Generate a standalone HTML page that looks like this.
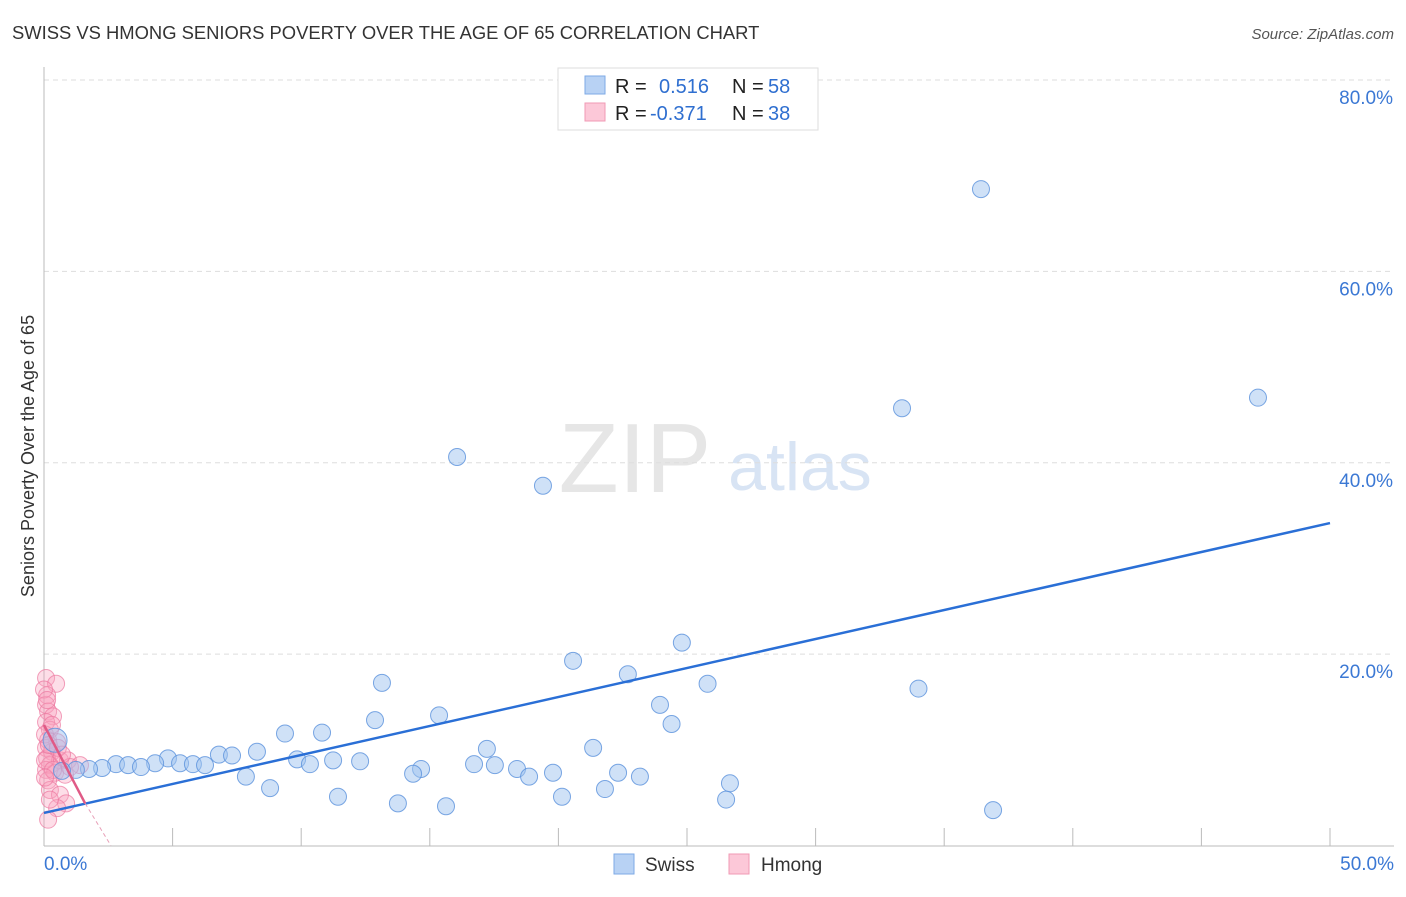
<!DOCTYPE html>
<html><head><meta charset="utf-8"><style>
body{margin:0;background:#fff;font-family:"Liberation Sans",sans-serif;}
svg text{font-family:"Liberation Sans",sans-serif;}
</style></head><body>
<svg id="chart" width="1406" height="892">
<text x="12" y="39" font-size="18.4" fill="#333">SWISS VS HMONG SENIORS POVERTY OVER THE AGE OF 65 CORRELATION CHART</text>
<text x="1394" y="39" font-size="15" fill="#555" font-style="italic" text-anchor="end">Source: ZipAtlas.com</text>
<text x="34" y="456" font-size="18" fill="#333" text-anchor="middle" transform="rotate(-90 34 456)">Seniors Poverty Over the Age of 65</text>
<text x="635" y="492" font-size="98" fill="#e6e6e6" font-family="Liberation Serif" text-anchor="middle">ZIP</text>
<text x="800" y="490" font-size="68" fill="#d8e4f4" text-anchor="middle">atlas</text>
<g id="grid"></g>
<g id="axes"></g>
<g id="marks"></g>
<g>
<rect x="558" y="68" width="260" height="62" fill="#fff" stroke="#ddd"/>
<rect x="585" y="76" width="20" height="18" fill="#b8d2f4" stroke="#7eaae6"/>
<rect x="585" y="103" width="20" height="18" fill="#fcc8d8" stroke="#f09ab4"/>
<text x="615" y="93" font-size="20" fill="#222">R = </text><text x="659" y="93" font-size="20" fill="#2f6fd0">0.516</text>
<text x="732" y="93" font-size="20" fill="#222">N = </text><text x="768" y="93" font-size="20" fill="#2f6fd0">58</text>
<text x="615" y="120" font-size="20" fill="#222">R = </text><text x="650" y="120" font-size="20" fill="#2f6fd0">-0.371</text>
<text x="732" y="120" font-size="20" fill="#222">N = </text><text x="768" y="120" font-size="20" fill="#2f6fd0">38</text>
</g>
<g>
<rect x="614" y="854" width="20" height="20" fill="#b8d2f4" stroke="#7eaae6"/>
<text x="645" y="871" font-size="19" fill="#333">Swiss</text>
<rect x="729" y="854" width="20" height="20" fill="#fcc8d8" stroke="#f09ab4"/>
<text x="761" y="871" font-size="19" fill="#333">Hmong</text>
</g>
</svg>
<script>
const yTicks=[20,40,60,80];
const yTickLabels=["20.0%","40.0%","60.0%","80.0%"];
const xTickLabels=["0.0%","50.0%"];
const swissX=[36.43,47.2,33.36,16.06,19.4,24.8,20.57,22.7,25.8,34.0,13.14,23.95,24.4,15.36,12.87,9.37,10.81,21.35,17.22,8.28,6.80,7.31,4.82,9.84,11.24,12.29,4.32,5.29,5.79,6.26,10.34,2.80,3.27,3.77,2.26,1.75,1.24,0.70,0.43,16.72,17.53,18.39,19.79,14.66,14.35,22.32,23.17,18.86,7.85,26.67,8.79,21.81,11.43,20.14,26.52,13.76,15.63,36.9];
const swissY=[68.6,46.8,45.7,40.6,37.6,21.2,19.3,17.9,16.9,16.4,17.0,14.7,12.7,13.6,13.1,11.7,11.8,10.2,10.1,9.8,9.5,9.4,9.1,9.0,8.9,8.8,8.6,8.6,8.5,8.4,8.5,8.5,8.4,8.2,8.1,8.0,7.9,7.8,11.0,8.5,8.4,8.0,7.6,8.0,7.5,7.6,7.2,7.2,7.2,6.5,6.0,5.9,5.1,5.1,4.8,4.4,4.1,3.7];
const hmongX=[0.08,0.47,0.12,0.08,0.16,0.35,0.08,0.23,0.16,0.51,0.08,0.31,0.12,0.62,0.23,0.08,0.43,0.93,0.82,0.16,0.23,0.62,0.86,0.51,0.16,1.40,1.01,0.04,0.31,0.04,0.19,0.54,0.70,0.0,0.12,0.35,0.04,0.23];
const hmongY=[17.5,16.9,15.7,14.7,14.0,13.5,12.9,12.1,11.0,10.8,10.2,9.8,9.1,8.9,8.4,7.9,7.6,8.9,7.4,6.8,5.8,5.3,4.4,3.9,2.7,8.4,8.2,11.6,12.6,8.9,10.5,10.2,9.5,16.3,15.2,7.9,7.1,4.8];
const swissTrend=[3.4,33.7];
const hmongTrend=[12.6,4.4,0.0];
const hmongTrendX=[0,1.6,2.6];
const NS='http://www.w3.org/2000/svg';
const X0=44,X1=1330,Y0=845.5,Y80=80;
function sx(v){return X0+(X1-X0)*v/50;}
function sy(v){return Y0-(Y0-Y80)*v/80;}
function mk(tag,attrs,parent){const e=document.createElementNS(NS,tag);for(const k in attrs)e.setAttribute(k,attrs[k]);parent.appendChild(e);return e;}
const grid=document.getElementById('grid'),axes=document.getElementById('axes'),marks=document.getElementById('marks');
yTicks.forEach((t,i)=>{
 const l=mk('line',{x1:44,x2:1394,y1:sy(t),y2:sy(t),stroke:'#ddd','stroke-dasharray':'5,4'},grid);
 
 
 const tx=mk('text',{x:1393,y:sy(t)+24,'font-size':19,fill:'#3b78d4','text-anchor':'end'},grid);
 tx.textContent=yTickLabels[i];
 
 
});
const al=mk('line',{x1:44,x2:44,y1:67,y2:846,stroke:'#bbb'},axes);


const bl=mk('line',{x1:44,x2:1394,y1:846,y2:846,stroke:'#bbb'},axes);


for(let i=1;i<=10;i++){
 const t=mk('line',{x1:sx(i*5),x2:sx(i*5),y1:828,y2:846,stroke:'#bbb'},axes);
 
 
}
[[0,'start',44],[50,'end',1394]].forEach((p,i)=>{
 const tx=mk('text',{x:p[2],y:870,'font-size':19,fill:'#3b78d4','text-anchor':p[1]},axes);
 tx.textContent=xTickLabels[i];
 
 
});
hmongX.forEach((v,i)=>{
 const c=mk('circle',{cx:sx(v),cy:sy(hmongY[i]),r:8.5,fill:'rgba(248,160,190,0.35)',stroke:'rgba(236,120,160,0.7)','stroke-width':1},marks);
 
 
});
swissX.forEach((v,i)=>{
 const c=mk('circle',{cx:sx(v),cy:sy(swissY[i]),r:(i===38?12:8.5),fill:'rgba(160,196,240,0.5)',stroke:'rgba(90,145,220,0.8)','stroke-width':1},marks);
 
 
});
const sl=mk('line',{x1:sx(0),y1:sy(swissTrend[0]),x2:sx(50),y2:sy(swissTrend[1]),stroke:'#2a6fd6','stroke-width':2.5},marks);


const hl=mk('line',{x1:sx(hmongTrendX[0]),y1:sy(hmongTrend[0]),x2:sx(hmongTrendX[1]),y2:sy(hmongTrend[1]),stroke:'#e05a86','stroke-width':2.5},marks);


const hd=mk('line',{x1:sx(hmongTrendX[1]),y1:sy(hmongTrend[1]),x2:sx(hmongTrendX[2]),y2:sy(hmongTrend[2]),stroke:'#e8a0b8','stroke-width':1,'stroke-dasharray':'4,3'},marks);


</script>
</body></html>
